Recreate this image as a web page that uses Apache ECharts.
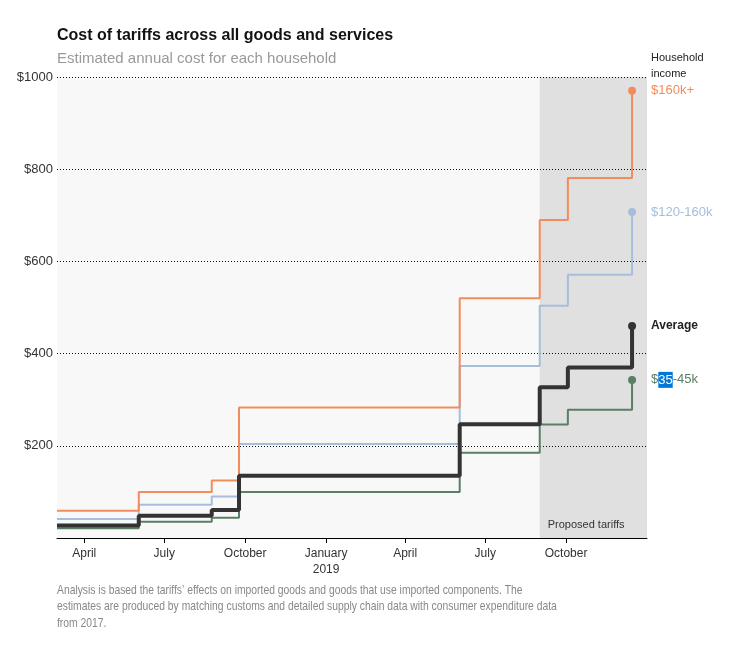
<!DOCTYPE html>
<html>
<head>
<meta charset="utf-8">
<script src="https://cdn.jsdelivr.net/npm/echarts@6/dist/echarts.min.js"></script>
<style>
html,body{margin:0;padding:0;background:#fff;}
#chart{width:743px;height:645px;}
</style>
</head>
<body>
<div id="chart"></div>
<script>
// ---- data ----
const stepDates = ['2018-03-01','2018-06-02','2018-08-24','2018-09-24','2019-06-02','2019-09-01','2019-10-03','2019-12-15'];
const income160kPlus = [59, 100, 125, 283, 520, 690, 781, 970];
const income120to160k = [41, 72, 90, 204, 373, 504, 571, 707];
const averageHousehold = [27, 48, 61, 135, 247, 327, 370, 460];
const income35to45k = [21, 35, 44, 100, 185, 246, 278, 343];
const xTickDates = ['2018-04-01','2018-07-01','2018-10-01','2019-01-01','2019-04-01','2019-07-01','2019-10-01'];
const xTickLabels = ['April','July','October','January\n2019','April','July','October'];
const yTicks = [0, 200, 400, 600, 800, 1000];
const xRange = ['2018-03-01','2020-01-01'];
const proposedRange = ['2019-09-01','2020-01-01'];

function t(s){ const p = s.split('-').map(Number); return Date.UTC(p[0], p[1]-1, p[2]); }

const FONT = "'Liberation Sans', Arial, sans-serif";
const tickTimes = xTickDates.map(t);
const last = stepDates.length - 1;

function mk(name, values, color, width, labelCfg) {
  return {
    name: name,
    type: 'line',
    step: 'end',
    data: stepDates.map((d, i) => [t(d), values[i]]),
    symbol: 'circle',
    symbolSize: (v, p) => (p.dataIndex === last ? 8 : 0),
    showSymbol: true,
    showAllSymbol: true,
    lineStyle: { color: color, width: width },
    itemStyle: { color: color },
    emphasis: { disabled: true },
    endLabel: Object.assign({ show: true, distance: 19, fontFamily: FONT }, labelCfg)
  };
}

const chart = echarts.init(document.getElementById('chart'), null, { renderer: 'canvas' });
const greenSeries = mk('$35-45k', income35to45k, '#5b7e64', 2, {
  formatter: '{a|$}{sel|35}{a|-45k}',
  rich: {
    a: { color: '#5b7e64', fontSize: 13, fontFamily: FONT },
    sel: { color: '#ffffff', backgroundColor: '#0078d7', fontSize: 13, fontFamily: FONT, padding: [2, 0, 1, 0] }
  }
});
greenSeries.markArea = {
  silent: true,
  itemStyle: { color: 'rgba(0,0,0,0.095)' },
  label: { show: true, position: 'insideBottomLeft', distance: 8, color: '#333', fontSize: 11, fontFamily: FONT },
  data: [[{ name: 'Proposed tariffs', xAxis: t(proposedRange[0]) }, { xAxis: t(proposedRange[1]) }]]
};

chart.setOption({
  animation: false,
  textStyle: { fontFamily: FONT },
  grid: { left: 57, right: 96, top: 77, bottom: 107, show: true, backgroundColor: '#f8f8f8', borderWidth: 0 },
  xAxis: {
    type: 'value',
    min: t(xRange[0]),
    max: t(xRange[1]),
    axisLine: { show: true, lineStyle: { color: '#000', width: 1 } },
    axisTick: { show: true, length: 5, lineStyle: { color: '#000' }, customValues: tickTimes },
    axisLabel: {
      customValues: tickTimes,
      formatter: function (v) { const i = tickTimes.indexOf(v); return i >= 0 ? xTickLabels[i] : ''; },
      color: '#333', fontSize: 12, lineHeight: 16, margin: 8, fontFamily: FONT
    },
    splitLine: { show: false }
  },
  yAxis: {
    type: 'value',
    min: yTicks[0],
    max: yTicks[yTicks.length - 1],
    interval: 200,
    axisLine: { show: false },
    axisTick: { show: false },
    axisLabel: { formatter: v => (v === 0 ? '' : '$' + v), color: '#333', fontSize: 13, margin: 4, fontFamily: FONT },
    splitLine: { show: true, lineStyle: { color: '#111', width: 1, type: [1, 2] } }
  },
  graphic: [
    { type: 'text', left: 57, top: 28, style: { text: 'Cost of tariffs across all goods and services', fontSize: 16, fontWeight: 'bold', fill: '#121212', fontFamily: FONT } },
    { type: 'text', left: 57, top: 51, style: { text: 'Estimated annual cost for each household', fontSize: 15, fill: '#999', fontFamily: FONT } },
    { type: 'text', left: 651, top: 50, style: { text: 'Household\nincome', fontSize: 11, lineHeight: 16, fill: '#222', fontFamily: FONT } },
    { type: 'text', x: 57, y: 582, scaleX: 0.795, style: { text: 'Analysis is based the tariffs\u2019 effects on imported goods and goods that use imported components. The\nestimates are produced by matching customs and detailed supply chain data with consumer expenditure data\nfrom 2017.', fontSize: 13, lineHeight: 16.5, fill: '#888', fontFamily: FONT } }
  ],
  series: [
    greenSeries,
    mk('$120-160k', income120to160k, '#a6bddb', 2, { formatter: '$120-160k', color: '#a6bddb', fontSize: 13 }),
    mk('$160k+', income160kPlus, '#f28c5c', 2, { formatter: '$160k+', color: '#f28c5c', fontSize: 13 }),
    mk('Average', averageHousehold, '#333333', 4, { formatter: 'Average', color: '#222', fontSize: 12, fontWeight: 'bold' })
  ]
});
</script>
</body>
</html>
